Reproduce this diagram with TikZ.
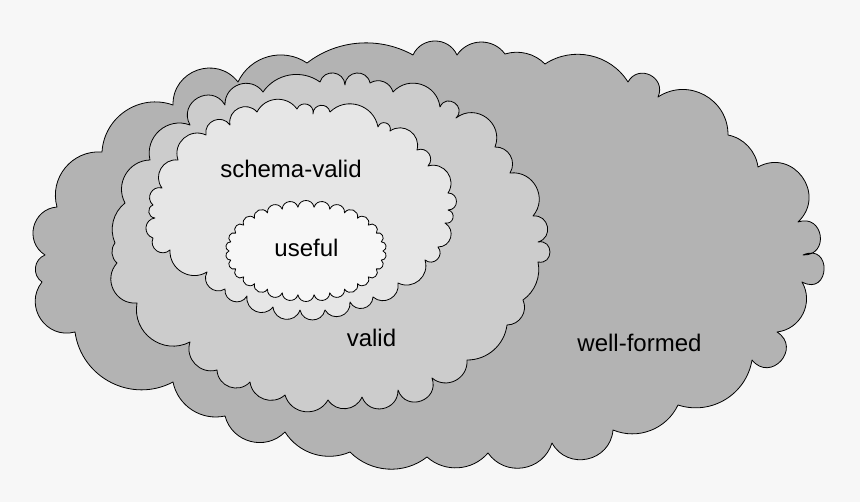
\documentclass[tikz,border=0pt]{standalone}
\usepackage{fontspec}
\setmainfont{Liberation Sans}

\definecolor{paper}{HTML}{F7F7F7}
\definecolor{wfgrey}{HTML}{B3B3B3}
\definecolor{validgrey}{HTML}{CCCCCC}
\definecolor{schemagrey}{HTML}{E6E6E6}

\tikzset{
  cloudline/.style={draw=black, line width=0.8pt, line join=round},
  % puff of bulge #1 (height over chord), drawn as a circular arc
  puff/.style={bend left={2*atan(2*#1)}, looseness={(1+4*#1*#1)/1.1745}},
  cloudtext/.style={font=\fontsize{24}{28}\selectfont, anchor=base, inner sep=0pt}
}

\begin{document}
\begin{tikzpicture}[x=1pt, y=1pt]

% Paper
\fill[paper] (0,0) rectangle (860,-502);
\useasboundingbox (0,0) rectangle (860,-502);

% well-formed cloud
\filldraw[cloudline, fill=wfgrey] (102,-152)
  foreach \px/\py/\r in {173/105/0.25, 238/82/0.36, 307/63/0.23,
    413/55/0.15, 457/55/0.32, 505/54/0.26, 545/64/0.14, 628/82/0.21,
    658/97/0.48, 728/135/0.30, 758/167/0.16, 798/222/0.44, 803/255/0.6,
    802/282/0.8, 777/332/0.27, 752/360/0.59, 678/405/0.23, 613/430/0.2,
    552/443/0.37, 488/453/0.31, 427/457/0.21, 350/452/0.19, 285/432/0.185,
    225/416/0.29, 173/382/0.21, 75/332/0.26, 42/282/0.36, 45/255/0.3,
    57/207/0.36, 102/152/0.26}
  { to[puff=\r] (\px,-\py) } -- cycle;

% valid cloud
\filldraw[cloudline, fill=validgrey] (125,-203)
  foreach \px/\py/\r in {150/160/0.28, 190/125/0.3, 225/105/0.49,
    263/92/0.37, 320/82/0.21, 345/85/0.42, 370/83/0.44, 393/92/0.25,
    440/107/0.32, 456/118/0.6, 495/147/0.38, 510/173/0.3, 533/216/0.34,
    538/242/0.46, 538/262/0.6, 523/300/0.15, 507/325/0.27, 467/360/0.19,
    432/378/0.33, 398/390/0.5, 362/397/0.42, 328/400/0.3, 285/395/0.33,
    250/382/0.3, 217/370/0.33, 190/342/0.3, 137/303/0.31, 117/263/0.34,
    115/243/0.2, 125/203/0.17}
  { to[puff=\r] (\px,-\py) } -- cycle;

% schema-valid cloud
\filldraw[cloudline, fill=schemagrey] (153,-205)
  foreach \px/\py/\r in {162/188/0.4, 178/160/0.33, 206/135/0.33,
    230/125/0.4, 257/112/0.38, 297/109/0.28, 313/114/0.45, 330/112/0.45,
    378/127/0.3, 390/131/0.5, 417/150/0.35, 428/166/0.4, 448/193/0.35,
    448/210/0.5, 445/223/0.5, 438/247/0.38, 425/260/0.45, 398/283/0.33,
    373/297/0.35, 350/302/0.38, 325/310/0.4, 300/310/0.4, 273/307/0.4,
    247/296/0.38, 225/289/0.4, 207/272/0.38, 170/250/0.3, 153/238/0.4,
    155/218/0.4, 153/205/0.4}
  { to[puff=\r] (\px,-\py) } -- cycle;

% useful cloud
\filldraw[cloudline, fill=paper] (383,-251)
  foreach \t in {12,24,...,360}
  { to[puff=0.42] ({306+77*cos(\t)},{-251-44*sin(\t)}) } -- cycle;

% Texts
\node[cloudtext] (schema) at (291,-178) {schema-valid};
\node[cloudtext] (useful) at (306.5,-257) {useful};
\node[cloudtext] (valid) at (371.5,-347) {valid};
\node[cloudtext] (wellformed) at (639.5,-352) {well-formed};

\end{tikzpicture}
\end{document}
